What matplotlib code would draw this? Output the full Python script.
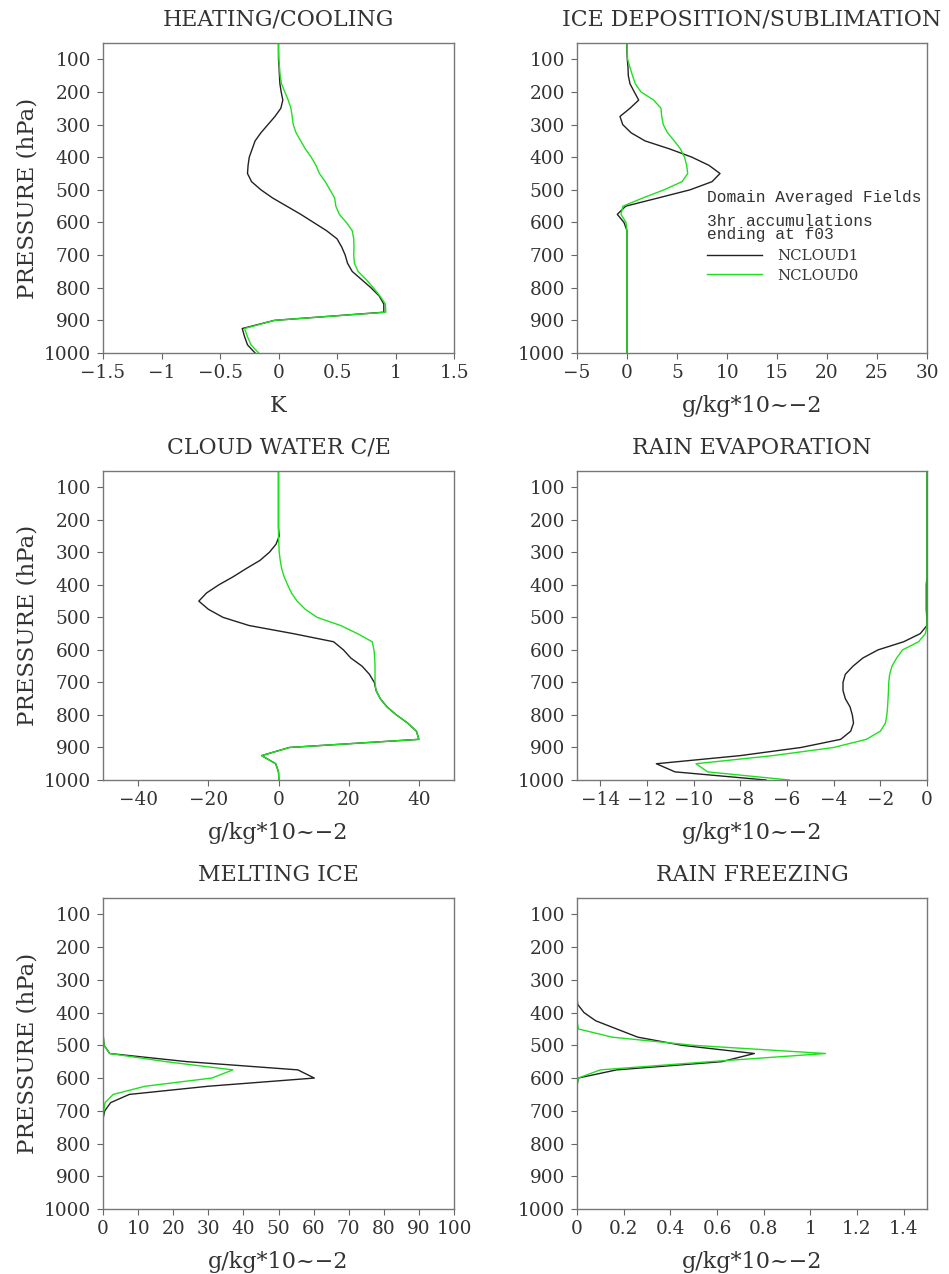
import matplotlib
matplotlib.use('Agg')
import matplotlib.pyplot as plt
from matplotlib.ticker import FuncFormatter

plt.rcParams['font.family'] = 'DejaVu Serif'

# pressure levels (hPa)
levels = [50, 75, 100, 125, 150, 175, 200, 225, 250, 275, 300, 325, 350, 375,
          400, 425, 450, 475, 500, 525, 550, 575, 600, 625, 650, 675, 700, 725,
          750, 775, 800, 825, 850, 875, 900, 925, 950, 975, 1000]

# heating / cooling (K)
heat1 = [0, 0, 0, 0.005, 0.008, 0.012, 0.023, 0.037, 0.02, -0.03, -0.09, -0.15, -0.2, -0.225,
         -0.25, -0.26, -0.265, -0.23, -0.15, -0.05, 0.07, 0.19, 0.3, 0.41, 0.5, 0.54, 0.57, 0.59,
         0.63, 0.71, 0.79, 0.86, 0.9, 0.9, -0.035, -0.31, -0.29, -0.265, -0.2]
heat0 = [0, 0, 0.003, 0.009, 0.014, 0.026, 0.054, 0.083, 0.106, 0.117, 0.126, 0.15, 0.19, 0.23,
         0.28, 0.32, 0.35, 0.4, 0.44, 0.48, 0.49, 0.52, 0.58, 0.63, 0.643, 0.645, 0.643, 0.649,
         0.68, 0.75, 0.81, 0.866, 0.914, 0.917, -0.035, -0.29, -0.265, -0.235, -0.17]

# ice deposition / sublimation
ice1 = [0, 0, 0.03, 0.1, 0.13, 0.3, 0.73, 1.17, 0.3, -0.7, -0.43, 0.4, 1.8, 4.3,
        6.5, 8.2, 9.3, 8.5, 6.3, 3.1, -0.13, -0.97, -0.3, 0, 0, 0, 0, 0,
        0, 0, 0, 0, 0, 0, 0, 0, 0, 0, 0]
ice0 = [0, 0.03, 0.06, 0.3, 0.55, 0.83, 1.4, 2.67, 3.4, 3.47, 3.63, 4.05, 4.73, 5.35,
        5.75, 5.97, 6.07, 5.5, 3.7, 1.57, -0.4, -0.6, -0.1, 0, 0, 0, 0, 0,
        0, 0, 0, 0, 0, 0, 0, 0, 0, 0, 0]

# cloud water condensation / evaporation
cw1 = [0, 0, 0, 0, 0, 0, 0, 0, 0.2, -0.7, -2.6, -5.3, -9.2, -12.9,
       -17, -20.5, -22.7, -20, -15.8, -8.4, 4.2, 15.7, 18.5, 20.6, 23.8, 25.9, 27.3, 27.8,
       29.0, 30.9, 33.6, 36.8, 39.3, 40, 3.1, -4.8, -0.8, 0, 0.1]
cw0 = [0, 0, 0, 0, 0, 0, 0, 0, 0, 0.1, 0.2, 0.5, 0.9, 1.6,
       2.6, 3.7, 5.3, 7.6, 11.0, 17.7, 22.5, 26.7, 27.2, 27.4, 27.5, 27.5, 27.5, 27.8,
       29.0, 30.9, 33.6, 36.8, 39.3, 40, 3.1, -4.8, -0.8, 0, 0.1]

# rain evaporation
rev1 = [0, 0, 0, 0, 0, 0, 0, 0, 0, 0, 0, 0, 0, 0,
        -0.03, -0.03, -0.03, -0.03, -0.01, 0, -0.29, -1.0, -2.1, -2.75, -3.17, -3.5, -3.6, -3.6,
        -3.5, -3.3, -3.2, -3.15, -3.27, -3.7, -5.4, -8.0, -11.6, -10.8, -6.9]
rev0 = [0, 0, 0, 0, 0, 0, 0, 0, 0, 0, 0, 0, 0, 0,
        0, 0, 0, 0, 0, 0, -0.07, -0.36, -1.05, -1.3, -1.5, -1.6, -1.64, -1.65,
        -1.67, -1.69, -1.72, -1.78, -2.0, -2.6, -4.0, -6.6, -9.9, -9.4, -5.9]

# melting ice
melt1 = [0, 0, 0, 0, 0, 0, 0, 0, 0, 0, 0, 0, 0, 0,
         0, 0, 0, 0.1, 0.3, 1.9, 24, 55.5, 60.2, 30, 7.5, 2.2, 0.5, 0,
         0, 0, 0, 0, 0, 0, 0, 0, 0, 0, 0]
melt0 = [0, 0, 0, 0, 0, 0, 0, 0, 0, 0, 0, 0, 0, 0,
         0, 0, 0, 0.1, 0.3, 1.9, 18, 37, 31, 12, 2.9, 0.6, 0.2, 0,
         0, 0, 0, 0, 0, 0, 0, 0, 0, 0, 0]

# rain freezing
frz1 = [0, 0, 0, 0, 0, 0, 0, 0, 0, 0, 0, 0, 0, 0.003,
        0.03, 0.08, 0.17, 0.26, 0.45, 0.76, 0.62, 0.17, 0.005, 0, 0, 0, 0, 0,
        0, 0, 0, 0, 0, 0, 0, 0, 0, 0, 0]
frz0 = [0, 0, 0, 0, 0, 0, 0, 0, 0, 0, 0, 0, 0, 0,
        0, 0, 0.006, 0.15, 0.5, 1.065, 0.57, 0.1, 0.005, 0, 0, 0, 0, 0,
        0, 0, 0, 0, 0, 0, 0, 0, 0, 0, 0]

unit = 'g/kg*10~\u22122'
panels = [
    ('HEATING/COOLING', 'K', (-1.5, 1.5), [-1.5, -1, -0.5, 0, 0.5, 1, 1.5], heat1, heat0),
    ('ICE DEPOSITION/SUBLIMATION', unit, (-5, 30), [-5, 0, 5, 10, 15, 20, 25, 30], ice1, ice0),
    ('CLOUD WATER C/E', unit, (-50, 50), [-40, -20, 0, 20, 40], cw1, cw0),
    ('RAIN EVAPORATION', unit, (-15, 0), [-14, -12, -10, -8, -6, -4, -2, 0], rev1, rev0),
    ('MELTING ICE', unit, (0, 100), [0, 10, 20, 30, 40, 50, 60, 70, 80, 90, 100], melt1, melt0),
    ('RAIN FREEZING', unit, (0, 1.5), [0, 0.2, 0.4, 0.6, 0.8, 1, 1.2, 1.4], frz1, frz0),
]

W, H = 949, 1274
lefts = [103, 577]
widths = [351, 350]
tops = [43, 471, 898]
bottoms = [353, 780, 1209]

fmt = FuncFormatter(lambda v, p: ('%g' % v).replace('-', '\u2212'))
txt = '#333333'

fig = plt.figure(figsize=(W / 100, H / 100), dpi=100)

for i, (title, xlab, xlim, xt, s1, s0) in enumerate(panels):
    r, c = divmod(i, 2)
    ax = fig.add_axes([lefts[c] / W, 1 - bottoms[r] / H, widths[c] / W,
                       (bottoms[r] - tops[r]) / H])
    l1, = ax.plot(s1, levels, color='#222222', lw=1.0, label='NCLOUD1')
    l0, = ax.plot(s0, levels, color='#1ee01e', lw=1.0, label='NCLOUD0')
    ax.set_xlim(xlim)
    ax.set_ylim(1000, 50)
    ax.set_xticks(xt)
    ax.set_yticks(range(100, 1001, 100))
    ax.xaxis.set_major_formatter(fmt)
    ax.tick_params(direction='out', length=4.3, width=0.8, color='#666666',
                   labelsize=13.3, labelcolor=txt)
    ax.tick_params(axis='x', pad=3.4)
    ax.tick_params(axis='y', pad=4.6)
    for s in ax.spines.values():
        s.set_color('#777777')
        s.set_linewidth(1.0)
    ax.set_title(title, fontsize=15.8, color=txt, pad=12.3)
    ax.set_xlabel(xlab, fontsize=16, color=txt, labelpad=9.5)
    if c == 0:
        ax.set_ylabel('PRESSURE (hPa)', fontsize=16.5, color=txt, labelpad=3.5)
    if i == 1:
        mono = dict(family='Liberation Mono', fontsize=11.7, color=txt, transform=ax.transAxes)
        ax.text(0.371, 0.503, 'Domain Averaged Fields', va='center', **mono)
        ax.text(0.371, 0.423, '3hr accumulations', va='center', **mono)
        ax.text(0.371, 0.381, 'ending at f03', va='center', **mono)
        ax.legend(handles=[l1, l0], loc='upper left', bbox_to_anchor=(0.371, 0.334),
                  frameon=False, borderpad=0, borderaxespad=0, handlelength=3.7,
                  handletextpad=0.96, labelspacing=0.35,
                  prop={'family': 'DejaVu Serif', 'size': 10.8}, labelcolor=txt)

fig.savefig('out.png', dpi=100)
